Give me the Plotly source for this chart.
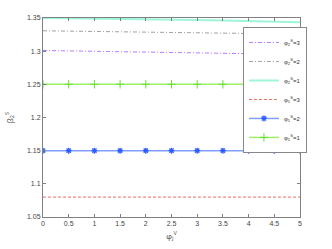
import plotly.graph_objects as go

x = [0, 0.5, 1, 1.5, 2, 2.5, 3, 3.5, 4, 4.5, 5]
phi2_3 = [1.3010, 1.3004, 1.2998, 1.2992, 1.2986, 1.2980, 1.2974, 1.2968, 1.2962, 1.2956, 1.2950]
phi2_2 = [1.3307, 1.3302, 1.3297, 1.3292, 1.3287, 1.3282, 1.3277, 1.3272, 1.3267, 1.3262, 1.3257]
phi2_1 = [1.3500, 1.3497, 1.3493, 1.3489, 1.3484, 1.3478, 1.3471, 1.3463, 1.3454, 1.3445, 1.3435]
phi1_3 = [1.08] * 11
phi1_2 = [1.15] * 11
phi1_1 = [1.25] * 11
xticks = ["0", "0.5", "1", "1.5", "2", "2.5", "3", "3.5", "4", "4.5", "5"]
yvals = [1.05, 1.1, 1.15, 1.2, 1.25, 1.3, 1.35]
yticks = ["1.05", "1.1", "1.15", "1.2", "1.25", "1.3", "1.35"]

names = ["φ<sub>2</sub><sup>S</sup>=3", "φ<sub>2</sub><sup>S</sup>=2", "φ<sub>2</sub><sup>S</sup>=1",
         "φ<sub>1</sub><sup>S</sup>=3", "φ<sub>1</sub><sup>S</sup>=2", "φ<sub>1</sub><sup>S</sup>=1"]

fig = go.Figure()
fig.add_trace(go.Scatter(x=x, y=phi2_3, name=names[0], mode="lines",
                         line=dict(color="#b77cff", width=1, dash="4px,2px,1px,2px")))
fig.add_trace(go.Scatter(x=x, y=phi2_2, name=names[1], mode="lines",
                         line=dict(color="#a0a0a0", width=1, dash="4px,2px,1px,2px")))
fig.add_trace(go.Scatter(x=x, y=phi2_1, name=names[2], mode="lines",
                         line=dict(color="#9ff5dc", width=2)))
fig.add_trace(go.Scatter(x=x, y=phi1_3, name=names[3], mode="lines",
                         line=dict(color="#f06a6a", width=1, dash="3px,2px")))
fig.add_trace(go.Scatter(x=x, y=phi1_2, name=names[4], mode="lines+markers",
                         line=dict(color="#7fa0ff", width=1.5),
                         marker=dict(symbol="asterisk-open", size=5, color="#2f5fff",
                                     line=dict(width=1.3, color="#2f5fff"))))
fig.add_trace(go.Scatter(x=x, y=phi1_1, name=names[5], mode="lines+markers",
                         line=dict(color="#9ef06a", width=1.5),
                         marker=dict(symbol="cross-thin-open", size=6, color="#66dd33",
                                     line=dict(width=1, color="#66dd33"))))

axis_common = dict(showline=True, linecolor="#808080", linewidth=1, mirror="ticks",
                   ticks="inside", ticklen=3, tickcolor="#808080", showgrid=False,
                   zeroline=False, automargin=False,
                   tickfont=dict(size=7, color="#444", family="Liberation Sans"))

fig.update_layout(
    width=332, height=249,
    margin=dict(l=43, r=32, t=18, b=32),
    paper_bgcolor="white", plot_bgcolor="white",
    showlegend=True,
    legend=dict(x=0.778, y=0.955, xanchor="left", yanchor="top",
                bordercolor="#888", borderwidth=1, bgcolor="white",
                font=dict(size=6, color="#333", family="Liberation Sans"),
                tracegroupgap=0, itemwidth=30),
    xaxis=dict(range=[0, 5], tickvals=x, ticktext=xticks,
               title=dict(text="φ<sub>j</sub><sup>V</sup>", font=dict(size=8, color="#444"), standoff=6),
               **axis_common),
    yaxis=dict(range=[1.05, 1.35], tickvals=yvals, ticktext=yticks,
               title=dict(text="β<sub>2</sub><sup>S</sup>", font=dict(size=8, color="#444"), standoff=12),
               **axis_common),
)

fig.write_html("out.html", config={"displayModeBar": False},
               post_script="document.body.style.margin='0';")
